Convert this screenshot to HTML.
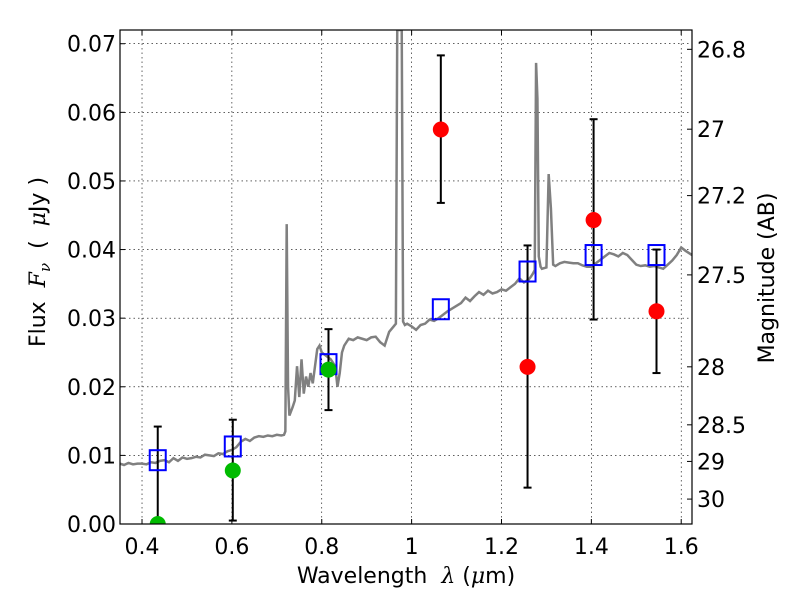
<!DOCTYPE html>
<html><head><meta charset="utf-8"><style>
body{margin:0;background:#fff;}
svg{display:block;font-family:"DejaVu Sans","Liberation Sans",sans-serif;}
</style></head><body>
<svg id="chart" width="800" height="600"></svg>
<script>
const specX=[0.351,0.36,0.37,0.38,0.39,0.40,0.41,0.42,0.43,0.44,0.45,0.46,0.47,0.48,0.49,0.50,0.51,0.52,0.53,0.54,0.55,0.56,0.57,0.58,0.59,0.60,0.61,0.62,0.63,0.64,0.65,0.66,0.67,0.68,0.69,0.70,0.71,0.716,0.719,0.722,0.725,0.728,0.735,0.74,0.745,0.75,0.755,0.76,0.765,0.77,0.775,0.78,0.79,0.795,0.80,0.81,0.82,0.83,0.835,0.84,0.845,0.85,0.86,0.87,0.88,0.89,0.90,0.91,0.92,0.93,0.94,0.95,0.96,0.965,0.968,0.972,0.978,0.981,0.985,0.99,1.00,1.01,1.02,1.03,1.04,1.05,1.06,1.07,1.08,1.09,1.10,1.11,1.12,1.13,1.14,1.15,1.16,1.17,1.18,1.19,1.20,1.21,1.22,1.23,1.24,1.25,1.26,1.265,1.27,1.274,1.277,1.28,1.283,1.287,1.29,1.30,1.305,1.31,1.315,1.32,1.33,1.34,1.35,1.36,1.37,1.38,1.39,1.40,1.41,1.42,1.43,1.44,1.45,1.46,1.47,1.48,1.49,1.50,1.51,1.52,1.53,1.54,1.55,1.56,1.57,1.58,1.59,1.60,1.61,1.624];
const specY=[0.0088,0.0086,0.0089,0.0087,0.0088,0.0088,0.0087,0.0090,0.0089,0.0092,0.0093,0.0090,0.0096,0.0092,0.0097,0.0095,0.0096,0.0098,0.0097,0.0101,0.0100,0.0099,0.0103,0.0102,0.0106,0.0108,0.0112,0.0120,0.0124,0.0121,0.0126,0.0128,0.0127,0.0129,0.0128,0.0130,0.0129,0.0130,0.0135,0.0437,0.0200,0.0158,0.0170,0.0180,0.0230,0.0185,0.0240,0.0190,0.0215,0.0200,0.0220,0.0205,0.0255,0.0260,0.0250,0.0245,0.0240,0.0230,0.0200,0.0220,0.0250,0.0260,0.0270,0.0268,0.0272,0.0270,0.0268,0.0272,0.0273,0.0265,0.0260,0.0280,0.0288,0.0292,0.072,0.072,0.072,0.0295,0.0290,0.0292,0.0288,0.0283,0.0290,0.0292,0.0298,0.0296,0.0300,0.0305,0.0310,0.0314,0.0318,0.0322,0.0330,0.0325,0.0332,0.0338,0.0334,0.0340,0.0336,0.0338,0.0342,0.0340,0.0345,0.0350,0.0358,0.0352,0.0356,0.0360,0.0365,0.0370,0.0672,0.0620,0.0390,0.0375,0.0372,0.0374,0.0510,0.0460,0.0378,0.0376,0.0380,0.0382,0.0381,0.0380,0.0380,0.0377,0.0375,0.0375,0.0380,0.0385,0.0390,0.0395,0.0393,0.0390,0.0395,0.0392,0.0385,0.0378,0.0376,0.0377,0.0375,0.0376,0.0374,0.0372,0.0378,0.0384,0.0392,0.0403,0.0398,0.0392,0.0388];
const redX=[1.065,1.258,1.405,1.545];
const redY=[0.0575,0.0229,0.0443,0.0310];
const redLo=[0.0468,0.0053,0.0298,0.0220];
const redHi=[0.0683,0.0406,0.0590,0.0400];
const greenX=[0.435,0.602,0.815];
const greenY=[0.0,0.0078,0.0225];
const greenLo=[0.0,0.0005,0.0166];
const greenHi=[0.0142,0.0152,0.0284];
const modelX=[0.435,0.602,0.815,1.065,1.258,1.405,1.545];
const modelY=[0.0093,0.0113,0.0233,0.0313,0.0368,0.0392,0.0392];
const xTicks=[0.4,0.6,0.8,1.0,1.2,1.4,1.6];
const xTickLabels=["0.4","0.6","0.8","1","1.2","1.4","1.6"];
const yTicks=[0,0.01,0.02,0.03,0.04,0.05,0.06,0.07];
const yTickLabels=["0.00","0.01","0.02","0.03","0.04","0.05","0.06","0.07"];
const magTicks=[26.8,27,27.2,27.5,28,28.5,29,30];
const magLabels=["26.8","27","27.2","27.5","28","28.5","29","30"];

const L=120,R=692,T=30,B=524,X0=0.351,X1=1.624,Y0=0,Y1=0.072;
const sx=v=>L+(v-X0)/(X1-X0)*(R-L);
const sy=v=>B-(v-Y0)/(Y1-Y0)*(B-T);
const svg=document.getElementById('chart');
const NS='http://www.w3.org/2000/svg';
function mk(tag,attrs,parent){const e=document.createElementNS(NS,tag);for(const k in attrs)e.setAttribute(k,attrs[k]);(parent||svg).appendChild(e);return e;}
const clip=mk('clipPath',{id:'cp'});mk('rect',{x:L,y:T,width:R-L,height:B-T},clip);

xTicks.forEach((t,i)=>{
  const g=mk('line',{x1:sx(t),x2:sx(t),y1:T,y2:B,stroke:'#000','stroke-width':0.6,'stroke-dasharray':'1.5,3'});
  
  
  mk('line',{x1:sx(t),x2:sx(t),y1:B,y2:B-5,stroke:'#000'});
  mk('line',{x1:sx(t),x2:sx(t),y1:T,y2:T+5,stroke:'#000'});
  const tx=mk('text',{x:sx(t),y:B+30,'font-size':22,'text-anchor':'middle'});tx.textContent=xTickLabels[i];
  
  
});
yTicks.forEach((t,i)=>{
  if(t>0){const g=mk('line',{x1:L,x2:R,y1:sy(t),y2:sy(t),stroke:'#000','stroke-width':0.6,'stroke-dasharray':'1.5,3'});
  
  }
  mk('line',{x1:L,x2:L+5,y1:sy(t),y2:sy(t),stroke:'#000'});
  const tx=mk('text',{x:L-4,y:sy(t)+8,'font-size':22,'text-anchor':'end'});tx.textContent=yTickLabels[i];
  
  
});
magTicks.forEach((m,i)=>{
  const f=Math.pow(10,(23.9-m)/2.5);
  mk('line',{x1:R-5,x2:R,y1:sy(f),y2:sy(f),stroke:'#000'});
  const tx=mk('text',{x:R+5,y:sy(f)+8,'font-size':22});tx.textContent=magLabels[i];
  
  
});

const pg=mk('g',{'clip-path':'url(#cp)'});
const sp=mk('polyline',{points:specX.map((x,i)=>sx(x)+','+sy(specY[i])).join(' '),fill:'none',stroke:'#808080','stroke-width':2.5},pg);



function errs(xs,lo,hi){xs.forEach((x,i)=>{
  const e=mk('g',{stroke:'#000','stroke-width':2},pg);
  
  
  mk('line',{x1:sx(x),x2:sx(x),y1:sy(lo[i]),y2:sy(hi[i])},e);
  mk('line',{x1:sx(x)-4,x2:sx(x)+4,y1:sy(lo[i]),y2:sy(lo[i])},e);
  mk('line',{x1:sx(x)-4,x2:sx(x)+4,y1:sy(hi[i]),y2:sy(hi[i])},e);
});}
errs(redX,redLo,redHi);errs(greenX,greenLo,greenHi);
modelX.forEach((x,i)=>{
  const r=mk('rect',{x:sx(x)-8,y:sy(modelY[i])-10,width:16,height:20,fill:'none',stroke:'#0000ff','stroke-width':2},pg);
  
  
});
greenX.forEach((x,i)=>{
  const c=mk('circle',{cx:sx(x),cy:sy(greenY[i]),r:8,fill:'#00bb00'},pg);
  
  
});
redX.forEach((x,i)=>{
  const c=mk('circle',{cx:sx(x),cy:sy(redY[i]),r:8,fill:'#ff0000'},pg);
  
  
});

const fr=mk('rect',{x:L,y:T,width:R-L,height:B-T,fill:'none',stroke:'#000','stroke-width':1.2});



const xl=mk('text',{x:406,y:583,'font-size':22,'text-anchor':'middle'});
xl.innerHTML='Wavelength\u00a0\u00a0<tspan font-style="italic" font-family="DejaVu Serif,serif">λ</tspan> (<tspan font-style="italic" font-family="DejaVu Serif,serif">μ</tspan>m)';


const yl=mk('text',{x:0,y:0,'font-size':22,'text-anchor':'middle',transform:'translate(45,262) rotate(-90)'});
yl.innerHTML='Flux\u00a0\u00a0<tspan font-style="italic" font-family="DejaVu Serif,serif">F</tspan><tspan font-style="italic" font-family="DejaVu Serif,serif" font-size="15" dy="5">ν</tspan><tspan dy="-5">\u00a0\u00a0(\u00a0\u00a0</tspan><tspan font-style="italic" font-family="DejaVu Serif,serif">μ</tspan>Jy )';


const ml=mk('text',{x:0,y:0,'font-size':22,'text-anchor':'middle',transform:'translate(774,278) rotate(-90)'});
ml.textContent='Magnitude (AB)';


</script>
</body></html>
